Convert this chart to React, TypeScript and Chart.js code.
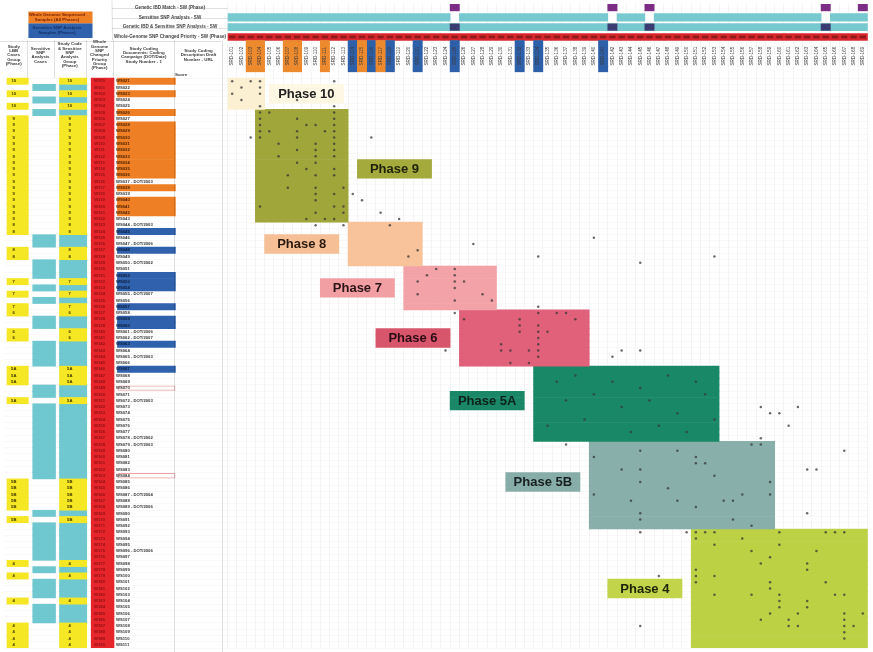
import React, { useEffect, useRef } from "react";
import { Chart, registerables } from "chart.js";

Chart.register(...registerables);

// ---------------- data ----------------
const rowCount = 91;
const columnCount = 69;

const phaseNames = ["Phase 10", "Phase 9", "Phase 8", "Phase 7", "Phase 6", "Phase 5A", "Phase 5B", "Phase 4"];
const phaseRowStart = [0, 5, 23, 30, 37, 46, 58, 72];
const phaseRowEnd = [5, 23, 30, 37, 46, 58, 72, 91];
const phaseColStart = [0, 3, 13, 19, 25, 33, 39, 50];
const phaseColEnd = [4, 13, 21, 29, 39, 53, 59, 69];
const phaseLabelCol = [4.5, 14, 4, 10, 16, 24, 30, 41];
const phaseLabelRow = [1, 13, 25, 32, 40, 50, 63, 80];

// header strips (columns)
const markerCols = [24, 41, 45, 64, 68];
const breakCols = [24, 41, 45, 64];
const orangeHeaderCols = [2, 3, 6, 7, 10, 14, 16];
const blueHeaderCols = [13, 15, 17, 20, 24, 31, 33, 40];

// left panel (inclusive row ranges)
const yellowRanges: [number, number][] = [[0, 0], [2, 2], [4, 4], [6, 24], [27, 28], [32, 32], [34, 34], [36, 37], [40, 41], [46, 48], [51, 51], [64, 68], [70, 70], [77, 77], [79, 79], [83, 83], [87, 90]];
const tealRanges: [number, number][] = [[1, 1], [3, 3], [5, 5], [25, 26], [29, 31], [33, 33], [35, 35], [38, 39], [42, 45], [49, 50], [52, 63], [69, 69], [71, 76], [78, 78], [80, 82], [84, 86]];
const orangeNameRanges: [number, number][] = [[0, 0], [2, 2], [5, 5], [7, 15], [17, 17], [19, 21]];
const blueNameRanges: [number, number][] = [[24, 24], [27, 27], [31, 33], [36, 36], [38, 39], [42, 42], [46, 46]];
const outlinedNameRows = [49, 63];
const longNameRows = [16, 23, 26, 29, 34, 40, 41, 44, 51, 57, 58, 66, 68, 75];

// marked cells [column, row]
const dotCells: [number, number][] = [
  [0, 0], [1, 1], [2, 0], [3, 0], [3, 1], [3, 2], [0, 2], [1, 3], [3, 4], [11, 0], [11, 4], [7, 3],
  [3, 5], [3, 6], [3, 7], [3, 8], [3, 9], [4, 5], [4, 8], [3, 20], [7, 6], [8, 7], [9, 7], [7, 8], [7, 9], [10, 8],
  [11, 5], [11, 6], [11, 7], [11, 8], [11, 9], [11, 10], [11, 11], [5, 10], [9, 10], [9, 11], [7, 11], [5, 12], [9, 12],
  [11, 12], [7, 13], [9, 13], [8, 14], [11, 14], [6, 15], [9, 15], [11, 15], [6, 17], [9, 17], [12, 17], [9, 18], [11, 18],
  [9, 19], [11, 20], [12, 20], [9, 21], [12, 21], [8, 22], [10, 22], [11, 22],
  [2, 9], [15, 9], [13, 18], [14, 19], [16, 21], [18, 22], [9, 23], [12, 23], [17, 23],
  [20, 27], [19, 28], [26, 26], [39, 25], [33, 28], [44, 29], [52, 28], [22, 30], [21, 31], [24, 30], [24, 31], [24, 32],
  [24, 33], [24, 35], [24, 37], [25, 32], [20, 32], [20, 34], [27, 34], [28, 35], [25, 38], [33, 36], [33, 37], [35, 37],
  [36, 37], [37, 38], [31, 38], [31, 39], [33, 39], [33, 40], [33, 41], [33, 42], [33, 43], [33, 44], [34, 40], [31, 40],
  [29, 42], [29, 43], [30, 43], [32, 43], [32, 45], [30, 45], [23, 43], [41, 44], [42, 43], [44, 43],
  [35, 48], [37, 47], [41, 48], [44, 49], [47, 47], [50, 48], [36, 51], [39, 50], [42, 52], [45, 51], [48, 53], [51, 50],
  [34, 55], [38, 54], [43, 56], [46, 55], [49, 56], [52, 54],
  [57, 52], [58, 53], [59, 53], [61, 52], [60, 55], [57, 57], [36, 58],
  [39, 60], [44, 59], [48, 59], [50, 60], [50, 61], [51, 61], [56, 58], [57, 58], [42, 62], [44, 62], [44, 64], [52, 63],
  [58, 64], [47, 65], [39, 66], [55, 66], [58, 66], [43, 67], [48, 67], [53, 67], [54, 67], [44, 69], [50, 68], [44, 70],
  [54, 70], [56, 71], [66, 59], [62, 62], [63, 62], [62, 69],
  [44, 72], [49, 72], [50, 72], [50, 73], [51, 72], [52, 72], [59, 72], [64, 72], [65, 72], [66, 72], [52, 74], [55, 73],
  [59, 74], [56, 75], [58, 76], [57, 77], [63, 75], [62, 77], [62, 78], [50, 78], [50, 79], [50, 80], [52, 79], [46, 79],
  [58, 80], [58, 81], [64, 80], [52, 82], [56, 82], [59, 82], [59, 83], [59, 84], [65, 82], [66, 82], [62, 83], [62, 84],
  [58, 85], [61, 85], [60, 86], [61, 87], [57, 86], [60, 87], [66, 85], [66, 86], [66, 87], [66, 88], [66, 89], [67, 87],
  [68, 85], [44, 87],
];

const legendLines = [
  "Genetic IBD Match - SW (Phase)",
  "Sensitive SNP Analysis - SW",
  "Genetic IBD & Sensitive SNP Analysis - SW",
  "Whole-Genome SNP Changed Priority - SW (Phase)",
];
const panelHeaders: string[][] = [
  ["Study", "LBB", "Cases", "Group", "(Phase)"],
  ["Sensitive", "SNP", "Analysis", "Cases"],
  ["Study Code", "& Sensitive", "SNP", "Analysis", "Group", "(Phase)"],
  ["Whole", "Genome", "SNP", "Changed", "Priority", "Group", "(Phase)"],
  ["Study Coding", "Documents: Coding", "Campaign (DOT/Date)", "Study Number - 1"],
  ["Study Coding", "Description Draft", "Number - URL"],
];

// ---------------- layout & style ----------------
const W = 873;
const H = 652;
const MATRIX_X0 = 225.6;
const COL_W = 9.36;
const MATRIX_Y0 = 75;
const ROW_H = (H - MATRIX_Y0) / rowCount;
const toCol = (p: number) => (p - MATRIX_X0) / COL_W;
const xMin = toCol(0);
const xMax = toCol(W);
const yMin = -MATRIX_Y0 / ROW_H;

const PANEL_A: [number, number] = [3, 24.5];
const PANEL_B: [number, number] = [29, 52];
const PANEL_C: [number, number] = [56, 83.5];
const PANEL_D: [number, number] = [88, 111];
const PANEL_E: [number, number] = [114.5, 173];
const PANEL_F: [number, number] = [176, 221];
const STRIP_Y = [3.4, 13.6, 23.4, 33.4];

const phaseColors = ["#FCF0D2", "#A0A63A", "#F8C39B", "#F3A3A7", "#E1607A", "#188866", "#88AFAA", "#BCD143"];
const phaseLabelColors = ["#FEF7E3", "#A4AA3C", "#F6BF96", "#F29FA4", "#D8566C", "#1A8767", "#87ADA8", "#C2D44A"];
const phaseTextColors = ["#222", "#1f2208", "#2a1a10", "#2a1416", "#2a0d14", "#0d2219", "#17201f", "#1d2406"];

const YELLOW = "#F6E724";
const TEAL = "#6FC7CF";
const RED = "#E6252B";
const ORANGE = "#EE7F24";
const BLUE = "#2F61AC";

function rowSpan(r0: number, r1: number, x0: number, x1: number) {
  const out: { y: number; x: [number, number] }[] = [];
  for (let r = r0; r < r1; r++) out.push({ y: r + 0.5, x: [x0, x1] });
  return out;
}
function rangesSpan(ranges: [number, number][], px: [number, number]) {
  return ranges.flatMap(([a, b]) => rowSpan(a, b + 1, toCol(px[0]), toCol(px[1])));
}
function bar(label: string, data: any[], color: string, extra: any = {}) {
  return {
    type: "bar", label, data, backgroundColor: color, borderWidth: 0, grouped: false,
    categoryPercentage: 1, barPercentage: 1, indexAxis: "y", xAxisID: "x", yAxisID: "y", ...extra,
  };
}
function hbar(label: string, segs: [number, number][], center: number, thick: number, color: string) {
  return {
    type: "bar", label, data: segs.map((s) => ({ y: center, x: s })), backgroundColor: color,
    borderWidth: 0, grouped: false, barThickness: thick, indexAxis: "y", xAxisID: "x", yAxisID: "yh",
  };
}
function segmentsWithout(gaps: number[]): [number, number][] {
  const segs: [number, number][] = [];
  let s = 0;
  gaps.forEach((g) => { segs.push([s, g]); s = g + 1; });
  segs.push([s, columnCount]);
  return segs;
}
function phaseOfRow(r: number) {
  for (let i = 0; i < phaseNames.length; i++) if (r >= phaseRowStart[i] && r < phaseRowEnd[i]) return phaseNames[i].replace("Phase ", "");
  return "";
}
const inRanges = (r: number, ranges: [number, number][]) => ranges.some(([a, b]) => r >= a && r <= b);

const textPlugin = {
  id: "sheetTexts",
  afterDraw(chart: any) {
    const ctx = chart.ctx as CanvasRenderingContext2D;
    const sx = chart.scales.x, sy = chart.scales.y, sh = chart.scales.yh;
    const px = (c: number) => sx.getPixelForValue(c);
    const py = (r: number) => sy.getPixelForValue(r);
    const ph = (v: number) => sh.getPixelForValue(v);
    const fontF = "'Liberation Sans', Arial, sans-serif";
    ctx.save();
    ctx.textBaseline = "middle";

    // faint sheet borders
    ctx.strokeStyle = "rgba(0,0,0,0.12)";
    ctx.lineWidth = 1;
    [PANEL_E[1] + 1, PANEL_F[1] + 0.5].forEach((xx) => {
      ctx.beginPath(); ctx.moveTo(Math.round(xx) + 0.5, py(-6)); ctx.lineTo(Math.round(xx) + 0.5, H); ctx.stroke();
    });
    [PANEL_A[1] + 2, PANEL_B[1] + 2, PANEL_C[1] + 2, PANEL_D[1] + 1.5].forEach((xx) => {
      ctx.beginPath(); ctx.moveTo(Math.round(xx) + 0.5, py(-6)); ctx.lineTo(Math.round(xx) + 0.5, py(0)); ctx.stroke();
    });
    ctx.beginPath(); ctx.moveTo(0, Math.round(py(-6)) + 0.5); ctx.lineTo(PANEL_F[1], Math.round(py(-6)) + 0.5); ctx.stroke();
    ctx.beginPath(); ctx.moveTo(112, 0.5); ctx.lineTo(112.5, py(-6)); ctx.stroke();
    [8.5, 18.5, 28.5].forEach((yy) => { ctx.beginPath(); ctx.moveTo(112, yy); ctx.lineTo(px(0), yy); ctx.stroke(); });

    // legend lines
    ctx.fillStyle = "#444";
    ctx.font = `bold 4.6px ${fontF}`;
    ctx.textAlign = "center";
    legendLines.forEach((t, i) => ctx.fillText(t, 170, ph(STRIP_Y[i])));

    // legend boxes text
    ctx.font = `bold 4.4px ${fontF}`;
    ctx.fillStyle = "#7a1f05";
    ctx.fillText("Whole Genome Sequenced", 57, ph(11));
    ctx.fillText("Samples (All Phases)", 57, ph(16));
    ctx.fillStyle = "#123066";
    ctx.fillText("Sensitive SNP Analysis", 57, ph(24.5));
    ctx.fillText("Samples (Phases)", 57, ph(29.5));

    // panel headers
    ctx.fillStyle = "#3a3a3a";
    ctx.font = `bold 4.4px ${fontF}`;
    const cols = [PANEL_A, PANEL_B, PANEL_C, PANEL_D, PANEL_E, PANEL_F];
    panelHeaders.forEach((lines, i) => {
      const cx = (cols[i][0] + cols[i][1]) / 2;
      const lh = 4.3;
      const top = 55 - ((lines.length - 1) * lh) / 2;
      lines.forEach((l, k) => ctx.fillText(l, cx, top + k * lh));
    });
    ctx.textAlign = "left";
    ctx.fillText("Score", 175, py(-0.6));

    // column header labels (rotated)
    ctx.font = `4.6px ${fontF}`;
    for (let c = 0; c < columnCount; c++) {
      ctx.save();
      ctx.translate(px(c + 0.5), py(-3.5));
      ctx.rotate(-Math.PI / 2);
      ctx.textAlign = "center";
      ctx.fillStyle = "#3c3c3c";
      ctx.fillText(`SRD-${String(101 + c)}`, 0, 0);
      ctx.restore();
    }

    // left panel cell texts
    ctx.textAlign = "center";
    ctx.font = `bold 4.2px ${fontF}`;
    for (let r = 0; r < rowCount; r++) {
      const y = py(r + 0.5);
      if (inRanges(r, yellowRanges)) {
        const t = phaseOfRow(r);
        ctx.fillStyle = "#3a3400";
        ctx.fillText(t, (PANEL_A[0] + PANEL_A[1]) / 2, y);
        ctx.fillText(t, (PANEL_C[0] + PANEL_C[1]) / 2, y);
      }
      ctx.fillStyle = "#8e1014";
      ctx.fillText(`W${100 + r}`, (PANEL_D[0] + PANEL_D[1]) / 2, y);
    }
    ctx.textAlign = "left";
    ctx.font = `bold 4.2px ${fontF}`;
    for (let r = 0; r < rowCount; r++) {
      const y = py(r + 0.5);
      const dark = inRanges(r, blueNameRanges);
      ctx.fillStyle = dark ? "#0d1c3a" : inRanges(r, orangeNameRanges) ? "#4a2000" : "#333";
      const name = `WS${String(21 + r).padStart(3, "0")}` + (longNameRows.includes(r) ? ` - DOT/${2001 + (r % 7)}` : "");
      ctx.fillText(name, PANEL_E[0] + 1.5, y);
    }

    // phase labels
    ctx.textAlign = "center";
    ctx.font = `bold 13px ${fontF}`;
    phaseNames.forEach((n, i) => {
      ctx.fillStyle = phaseTextColors[i];
      ctx.fillText(n, px(phaseLabelCol[i] + 4), py(phaseLabelRow[i] + 1.5) + 0.5);
    });
    ctx.restore();
  },
};

export default function App() {
  const ref = useRef<HTMLCanvasElement | null>(null);
  useEffect(() => {
    if (!ref.current) return;
    const datasets: any[] = [];

    // marks
    datasets.push({
      type: "scatter", label: "marks", data: dotCells.map(([c, r]) => ({ x: c + 0.5, y: r + 0.5 })),
      xAxisID: "x", yAxisID: "y", pointRadius: 1.25, pointBorderWidth: 0, backgroundColor: "rgba(55,55,55,0.75)",
      showLine: false, order: -2,
    });

    // phase labels
    phaseNames.forEach((n, i) => {
      datasets.push(bar(n + " label", rowSpan(phaseLabelRow[i], phaseLabelRow[i] + 3, phaseLabelCol[i], phaseLabelCol[i] + 8), phaseLabelColors[i], { order: -1 }));
    });
    // phase blocks
    phaseNames.forEach((n, i) => {
      datasets.push(bar(n, rowSpan(phaseRowStart[i], phaseRowEnd[i], phaseColStart[i], phaseColEnd[i]), phaseColors[i]));
    });

    // left panel
    datasets.push(bar("A", rangesSpan(yellowRanges, PANEL_A), YELLOW));
    datasets.push(bar("B", rangesSpan(tealRanges, PANEL_B), TEAL));
    datasets.push(bar("C yellow", rangesSpan(yellowRanges, PANEL_C), YELLOW));
    datasets.push(bar("C teal", rangesSpan(tealRanges, PANEL_C), TEAL));
    datasets.push(bar("D", rangesSpan([[0, rowCount - 1]], PANEL_D), RED));
    datasets.push(bar("E orange", rangesSpan(orangeNameRanges, PANEL_E), ORANGE));
    datasets.push(bar("E blue", rangesSpan(blueNameRanges, PANEL_E), BLUE));
    datasets.push(bar("E outline", rangesSpan(outlinedNameRows.map((r) => [r, r] as [number, number]), PANEL_E), "rgba(0,0,0,0)", {
      borderWidth: 1, borderColor: "#F0A2A2", borderSkipped: false, barPercentage: 0.85,
    }));

    // column header fills
    datasets.push(bar("hdr orange", orangeHeaderCols.flatMap((c) => rowSpan(-6, -1, c, c + 1)), "#EE8A2E"));
    datasets.push(bar("hdr blue", blueHeaderCols.flatMap((c) => rowSpan(-6, -1, c, c + 1)), "#2E5FA9"));

    // header strips
    datasets.push(hbar("purple", markerCols.map((c) => [c, c + 1] as [number, number]), STRIP_Y[0], 7, "#7C2D85"));
    datasets.push(hbar("teal1", segmentsWithout(breakCols), STRIP_Y[1], 7.5, "#76C9CF"));
    datasets.push(hbar("navy2", breakCols.map((c) => [c, c + 1] as [number, number]), STRIP_Y[2], 6.5, "#3B3D72"));
    datasets.push(hbar("teal2", [[0, columnCount]], STRIP_Y[2], 7, "#76C9CF"));
    const dash: [number, number][] = [];
    for (let c = 0; c < columnCount; c++) dash.push([c + 0.2, c + 0.8]);
    datasets.push(hbar("red dashes", dash, STRIP_Y[3], 2, "#8E1A1C"));
    datasets.push(hbar("red", [[0, columnCount]], STRIP_Y[3], 7, "#D8272C"));
    // legend boxes
    datasets.push(hbar("orange box", [[toCol(25), toCol(89)]], 13.5, 11, ORANGE));
    datasets.push(hbar("blue box", [[toCol(25), toCol(89)]], 27, 14, BLUE));

    const gridX = (ctx: any) => {
      const v = ctx.tick ? ctx.tick.value : -1;
      return v >= 0 && v <= columnCount ? "rgba(0,0,0,0.04)" : "rgba(0,0,0,0)";
    };
    const gridY = (ctx: any) => {
      const v = ctx.tick ? ctx.tick.value : -1;
      return v >= 0 && v <= rowCount ? "rgba(0,0,0,0.022)" : "rgba(0,0,0,0)";
    };

    const chart = new Chart(ref.current, {
      type: "bar",
      data: { datasets },
      plugins: [textPlugin],
      options: {
        indexAxis: "y",
        animation: false,
        responsive: true,
        maintainAspectRatio: false,
        events: [],
        layout: { padding: 0 },
        plugins: { legend: { display: false }, tooltip: { enabled: false } },
        scales: {
          x: {
            type: "linear", axis: "x", position: "bottom", min: xMin, max: xMax, z: 1, offset: false,
            afterFit: (s: any) => { s.height = 0; },
            ticks: { display: false, stepSize: 1, includeBounds: false },
            border: { display: false },
            grid: { drawTicks: false, color: gridX, lineWidth: 1, offset: false },
          },
          y: {
            type: "linear", axis: "y", position: "left", min: yMin, max: rowCount, reverse: true, z: 1, offset: false,
            afterFit: (s: any) => { s.width = 0; },
            ticks: { display: false, stepSize: 1, includeBounds: false },
            border: { display: false },
            grid: { drawTicks: false, color: gridY, lineWidth: 1, offset: false },
          },
          yh: {
            type: "linear", axis: "y", position: "left", min: 0, max: H, reverse: true, display: false, offset: false,
            ticks: { stepSize: 50, includeBounds: false },
            grid: { offset: false },
          },
        },
      } as any,
    } as any);
    return () => chart.destroy();
  }, []);

  return (
    <div style={{ position: "absolute", left: 0, top: 0, width: W, height: H, background: "#fff" }}>
      <canvas ref={ref} />
    </div>
  );
}
